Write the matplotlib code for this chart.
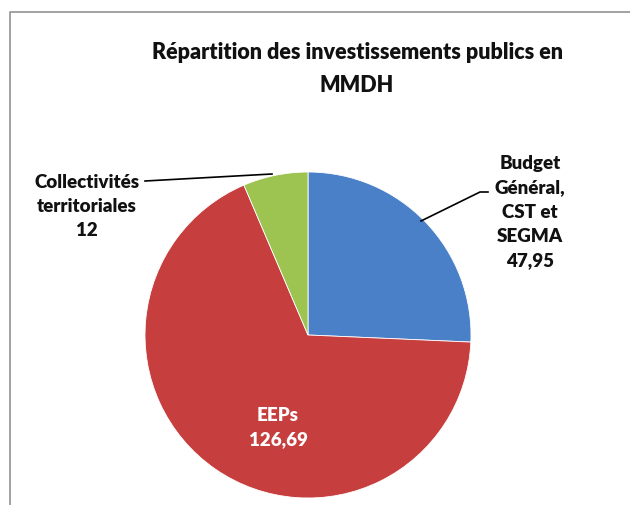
import matplotlib
matplotlib.use("Agg")
import matplotlib.pyplot as plt

# Data
categories = ["Budget\nGénéral,\nCST et\nSEGMA", "EEPs", "Collectivités\nterritoriales"]
values = [47.95, 126.69, 12]
value_labels = ["47,95", "126,69", "12"]
colors = ["#4A80C8", "#C63E3D", "#9DC350"]
title = "Répartition des investissements publics en\nMMDH"

W, H = 630, 506
fig = plt.figure(figsize=(W / 100, H / 100), dpi=100)
ax = fig.add_axes([0, 0, 1, 1])

plt.rcParams["font.family"] = ["Lato", "DejaVu Sans"]

cx, cy, r = 308, 170, 163
wedges, _ = ax.pie(values, colors=colors, startangle=90, counterclock=False,
                   center=(cx, cy), radius=r, frame=True,
                   wedgeprops=dict(edgecolor="white", linewidth=0.6))
ax.set_xlim(0, W)
ax.set_ylim(0, H)
ax.set_aspect("equal")
ax.axis("off")

# frame
ax.plot([10, 10, W + 5], [-5, H - 13, H - 13], color="#9a9a9a", lw=1.3, solid_capstyle="butt")

ax.text(357, H - 69, title, ha="center", va="center", fontsize=15.5,
        fontweight="heavy", linespacing=1.65, color="#111111")

# Budget label
ax.text(530, H - 212, categories[0] + "\n" + value_labels[0], ha="center", va="center",
        fontsize=13.5, fontweight="heavy", linespacing=1.52, color="#111111")
ax.plot([421, 480, 488], [H - 222, H - 193, H - 193], color="black", lw=1.2)

# Collectivités label
ax.text(87, H - 206, categories[2] + "\n" + value_labels[2], ha="center", va="center",
        fontsize=13.5, fontweight="heavy", linespacing=1.5, color="#111111")
ax.plot([145, 272], [H - 182, H - 175], color="black", lw=1.2)

# EEPs label
ax.text(278, H - 428, categories[1] + "\n" + value_labels[1], ha="center", va="center",
        fontsize=13.5, fontweight="heavy", linespacing=1.5, color="white")

fig.savefig("out.png", dpi=100)
